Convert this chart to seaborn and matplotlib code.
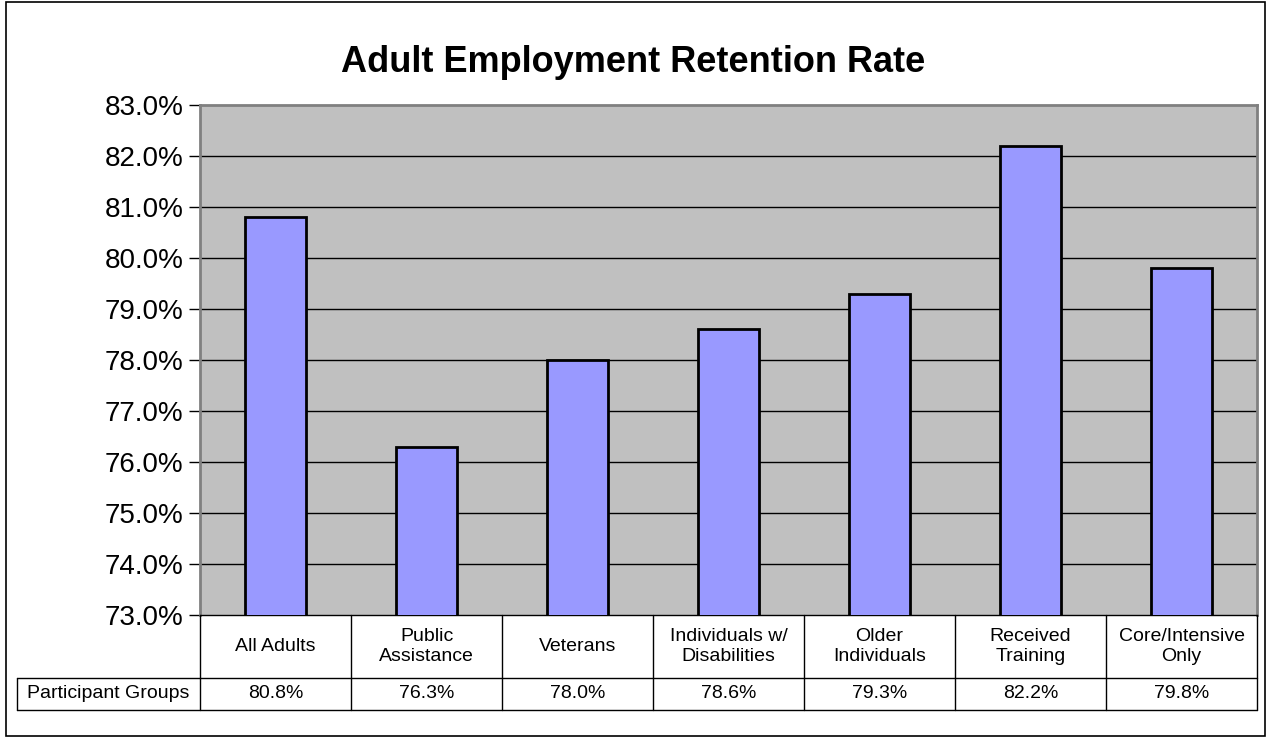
import matplotlib
matplotlib.use("Agg")
import matplotlib.pyplot as plt
import matplotlib.transforms as mtransforms
from matplotlib.lines import Line2D
from matplotlib.patches import Rectangle
import seaborn as sns
import pandas as pd

categories = ["All Adults", "Public\nAssistance", "Veterans", "Individuals w/\nDisabilities",
              "Older\nIndividuals", "Received\nTraining", "Core/Intensive\nOnly"]
values = [80.8, 76.3, 78.0, 78.6, 79.3, 82.2, 79.8]
row_label = "Participant Groups"
title = "Adult Employment Retention Rate"
yticks = [73, 74, 75, 76, 77, 78, 79, 80, 81, 82, 83]

sns.set_theme(style="white")
plt.rcParams['font.family'] = ['Liberation Sans', 'DejaVu Sans']
plt.rcParams['text.color'] = 'black'
plt.rcParams['ytick.color'] = 'black'
plt.rcParams['ytick.labelcolor'] = 'black'

W, H = 1267, 737
fig = plt.figure(figsize=(W / 100, H / 100), dpi=100)
fig.patch.set_facecolor("white")

L, R, T, B = 200, 1257, 105, 615
ax = fig.add_axes([L / W, 1 - B / H, (R - L) / W, (B - T) / H])
ax.set_facecolor("#C0C0C0")

df = pd.DataFrame({"cat": categories, "val": values})
sns.barplot(data=df, x="cat", y="val", color="#9999FF", edgecolor="black",
            linewidth=2.0, width=0.4, saturation=1, ax=ax, zorder=3)

ax.set_ylim(73, 83)
ax.set_xlim(-0.5, len(categories) - 0.5)
ax.set_yticks(yticks)
ax.set_yticklabels([f"{v:.1f}%" for v in yticks], fontsize=20, color="black")
for y in yticks[1:-1]:
    ax.axhline(y, color="black", linewidth=1.0, zorder=1)
ax.set_xticks([])
ax.set_xlabel("")
ax.set_ylabel("")
ax.tick_params(axis="y", length=8, width=1, color="black", pad=4, left=True)
for s in ["top", "right", "left"]:
    ax.spines[s].set_color("#808080")
    ax.spines[s].set_linewidth(2)
ax.spines["bottom"].set_color("black")
ax.spines["bottom"].set_linewidth(1)

fig.text(0.5, 1 - 62 / H, title, ha="center", va="center",
         fontsize=26, fontweight="bold", color="black")

# data table
trans = mtransforms.blended_transform_factory(ax.transData, fig.transFigure)
r1_bot, r2_bot = 678, 710
fy = lambda p: 1 - p / H
n = len(categories)
lc = "black"
fig.add_artist(Line2D([L / W, R / W], [fy(r1_bot)] * 2, transform=fig.transFigure, color=lc, lw=1))
fig.add_artist(Line2D([17 / W, R / W], [fy(r2_bot)] * 2, transform=fig.transFigure, color=lc, lw=1))
fig.add_artist(Line2D([17 / W, L / W], [fy(r1_bot)] * 2, transform=fig.transFigure, color=lc, lw=1))
fig.add_artist(Line2D([17 / W] * 2, [fy(r1_bot), fy(r2_bot)], transform=fig.transFigure, color=lc, lw=1))
for i in range(n + 1):
    fig.add_artist(Line2D([i - 0.5] * 2, [fy(B), fy(r2_bot)], transform=trans, color=lc, lw=1))
for i, (c, v) in enumerate(zip(categories, values)):
    fig.text(i, fy((B + r1_bot) / 2), c, transform=trans, ha="center", va="center",
             fontsize=14, linespacing=1.25, color="black")
    fig.text(i, fy((r1_bot + r2_bot) / 2), f"{v:.1f}%", transform=trans, ha="center",
             va="center", fontsize=14, color="black")
fig.text((17 + L) / 2 / W, fy((r1_bot + r2_bot) / 2), row_label, ha="center", va="center",
         fontsize=14, color="black")

# outer frame
fig.add_artist(Rectangle((6 / W, 1 / H), (1265 - 6) / W, (735 - 1) / H, transform=fig.transFigure,
                         fill=False, edgecolor="black", linewidth=1.2))

fig.savefig("out.png", dpi=100)
